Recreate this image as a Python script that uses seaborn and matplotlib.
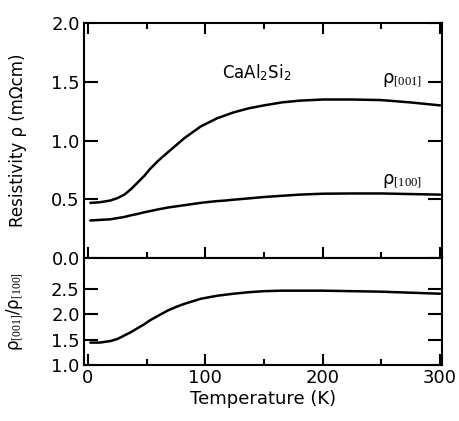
import matplotlib
matplotlib.use("Agg")
from matplotlib import pyplot as plt
from matplotlib.ticker import MultipleLocator, FormatStrFormatter
import seaborn as sns
import pandas as pd

# values
temperature = [2, 10, 19, 25, 31, 37, 42, 48, 53, 60, 68, 75, 82, 89, 96, 103, 110, 117, 124,
               137, 150, 165, 180, 200, 225, 250, 275, 300]
rho_001 = [0.47, 0.475, 0.49, 0.51, 0.54, 0.59, 0.64, 0.70, 0.76, 0.83, 0.90, 0.96, 1.02, 1.07,
           1.12, 1.155, 1.19, 1.215, 1.24, 1.275, 1.30, 1.325, 1.34, 1.35, 1.35, 1.345, 1.325, 1.30]
rho_100 = [0.32, 0.325, 0.33, 0.34, 0.35, 0.365, 0.375, 0.39, 0.40, 0.415, 0.43, 0.44, 0.45, 0.46,
           0.47, 0.478, 0.485, 0.49, 0.497, 0.508, 0.52, 0.53, 0.54, 0.548, 0.55, 0.55, 0.545, 0.54]
ratio = [1.44, 1.44, 1.47, 1.51, 1.58, 1.65, 1.72, 1.80, 1.88, 1.97, 2.07, 2.14, 2.20, 2.25,
         2.30, 2.33, 2.36, 2.38, 2.40, 2.43, 2.45, 2.46, 2.46, 2.46, 2.45, 2.44, 2.42, 2.40]

df = pd.DataFrame({"T": temperature, "rho001": rho_001, "rho100": rho_100, "ratio": ratio})

sns.set_theme(style="ticks")
plt.rcParams["font.family"] = ["DejaVu Sans"]
plt.rcParams["mathtext.fontset"] = "custom"
plt.rcParams["mathtext.rm"] = "Liberation Serif"
plt.rcParams["mathtext.it"] = "Liberation Serif:italic"
for key in ["text.color", "axes.labelcolor", "xtick.color", "ytick.color"]:
    plt.rcParams[key] = "black"

fig = plt.figure(figsize=(4.59, 4.21), dpi=100)
ax1 = fig.add_axes([0.183, 0.387, 0.780, 0.558])
ax2 = fig.add_axes([0.183, 0.133, 0.780, 0.254])

sns.lineplot(data=df, x="T", y="rho001", ax=ax1, color="black", lw=1.8)
sns.lineplot(data=df, x="T", y="rho100", ax=ax1, color="black", lw=1.8)
sns.lineplot(data=df, x="T", y="ratio", ax=ax2, color="black", lw=1.8)

for ax in (ax1, ax2):
    ax.set_xlim(-3.4, 301.7)
    ax.xaxis.set_major_locator(MultipleLocator(100))
    ax.xaxis.set_minor_locator(MultipleLocator(50))
    ax.tick_params(axis="x", which="major", direction="in", length=8, width=1.5)
    ax.tick_params(axis="x", which="minor", direction="in", length=4.5, width=1.5)
    ax.tick_params(axis="y", which="major", direction="in", length=10, width=1.5,
                   left=True, right=True)
    ax.tick_params(labelsize=13, pad=3)
    ax.yaxis.set_major_formatter(FormatStrFormatter("%.1f"))
    for s in ax.spines.values():
        s.set_linewidth(1.5)
        s.set_color("black")
        s.set_visible(True)

ax1.set_ylim(0, 2.0)
ax1.yaxis.set_major_locator(MultipleLocator(0.5))
ax1.tick_params(axis="x", which="both", top=True, bottom=True, labelbottom=False)
ax1.set_xlabel("")
ax1.set_ylabel("Resistivity ρ (mΩcm)", fontsize=12)

ax2.set_ylim(1.0, 3.1)
ax2.set_yticks([1.0, 1.5, 2.0, 2.5])
ax2.tick_params(axis="x", which="both", top=False, bottom=True)
ax2.set_xlabel("Temperature (K)", fontsize=13, labelpad=2)
ax2.set_ylabel(r"ρ$_{\mathrm{[001]}}$/ρ$_{\mathrm{[100]}}$", fontsize=12)

ax1.yaxis.set_label_coords(-0.158, 0.5)
ax2.yaxis.set_label_coords(-0.165, 0.5)

ax1.text(0.483, 0.79, r"CaAl$_\mathregular{2}$Si$_\mathregular{2}$", transform=ax1.transAxes,
         ha="center", va="center", fontsize=12)
ax1.text(0.945, 0.757, r"ρ$_{\mathrm{[001]}}$", transform=ax1.transAxes,
         ha="right", va="center", fontsize=13)
ax1.text(0.945, 0.33, r"ρ$_{\mathrm{[100]}}$", transform=ax1.transAxes,
         ha="right", va="center", fontsize=13)

fig.savefig("out.png", dpi=100)
